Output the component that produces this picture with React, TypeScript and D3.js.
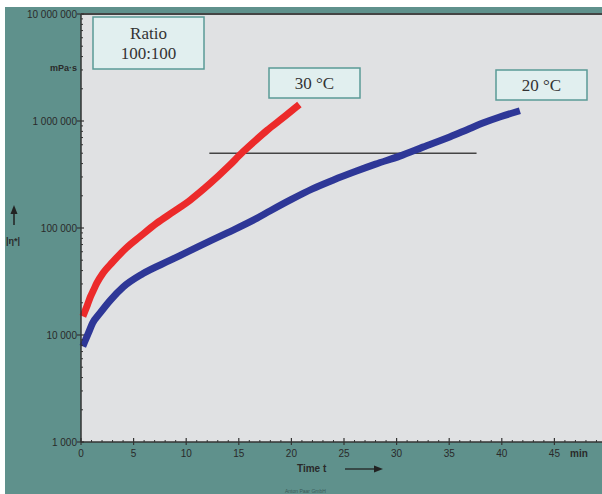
import * as d3 from "d3";

// viscosity |η*| (mPa·s) vs time (min), ratio 100:100
const red30T = [0.3, 0.6, 0.9, 1.2, 1.5, 2.1, 3.0, 4.3, 5.6, 7.2, 8.8, 10.4, 12.3, 14.0, 15.4, 16.6, 17.7, 19.2, 20.5];
const red30V = [16000, 19000, 22800, 26400, 30500, 38000, 48000, 65000, 83000, 111000, 142000, 183000, 262000, 375000, 515000, 660000, 820000, 1070000, 1360000];

const blue20T = [0.3, 0.7, 1.1, 1.8, 2.8, 4.0, 5.9, 8.5, 11.0, 13.9, 16.7, 18.0, 20.0, 22.0, 24.0, 26.0, 28.0, 30.3, 32.5, 35.1, 36.7, 38.2, 39.8, 41.4];
const blue20V = [8400, 10400, 12900, 16000, 21200, 28000, 37500, 50000, 66000, 90000, 123000, 145000, 185000, 232000, 281000, 335000, 395000, 470000, 570000, 713000, 830000, 957000, 1090000, 1220000];

const yTicks = [1000, 10000, 100000, 1000000, 10000000];
const xTicks = [0, 5, 10, 15, 20, 25, 30, 35, 40, 45];
const refLevel = 500000;
const refFrom = 12.2;
const refTo = 37.6;

const W = 602;
const H = 494;
const left = 81;
const top = 14;
const bottom = 442;
const teal = "#5f918c";

export default function App() {
  const x = d3.scaleLinear([0, 45], [left, left + 10.52 * 45]);
  const y = d3.scaleLog([1000, 10000000], [bottom, top]);

  const line = d3.line<[number, number]>()
    .x((d) => x(d[0]))
    .y((d) => y(d[1]))
    .curve(d3.curveMonotoneX);

  const red = red30T.map((t, i) => [t, red30V[i]] as [number, number]);
  const blue = blue20T.map((t, i) => [t, blue20V[i]] as [number, number]);

  const fmt = (v: number) => d3.format(",")(v).replace(/,/g, " ");

  // minor ticks
  const yMinor: number[] = [];
  for (let dec = 1000; dec < 10000000; dec *= 10) {
    for (let k = 2; k <= 9; k++) yMinor.push(dec * k);
  }
  const xMinor = d3.range(0, 50).filter((m) => m % 5 !== 0);

  const label = (bx: number, by: number, bw: number, bh: number, lines: string[]) => (
    <g>
      <rect x={bx} y={by} width={bw} height={bh} fill="#e1efef" stroke="#5a9a97" strokeWidth={1.5} />
      {lines.map((s, i) => (
        <text
          key={i}
          x={bx + bw / 2}
          y={by + bh / 2 + (i - (lines.length - 1) / 2) * 20}
          dy="0.35em"
          textAnchor="middle"
          fontFamily="'Liberation Serif', 'Times New Roman', serif"
          fontSize={17}
          fill="#333"
        >
          {s}
        </text>
      ))}
    </g>
  );

  return (
    <svg width={W} height={H} style={{ position: "absolute", left: 0, top: 0 }}>
      <rect x={0} y={0} width={W} height={H} fill="#fff" />
      <rect x={5} y={7} width={W - 5} height={H - 7} fill={teal} />
      <rect x={left} y={top} width={W - left} height={bottom - top} fill="#e0e1e3" />

      {/* reference line */}
      <line x1={x(refFrom)} x2={x(refTo)} y1={y(refLevel)} y2={y(refLevel)} stroke="#444" strokeWidth={1.5} />

      {/* series: dense square markers rendered as a thick band */}
      <path d={line(blue) ?? undefined} fill="none" stroke="#2e3797" strokeWidth={7} strokeLinecap="square" />
      <path d={line(red) ?? undefined} fill="none" stroke="#ec2a2a" strokeWidth={7} strokeLinecap="square" />

      {/* axes */}
      <line x1={left} x2={left} y1={top} y2={bottom} stroke="#333" strokeWidth={1.5} />
      <line x1={left} x2={W} y1={top} y2={top} stroke="#444" strokeWidth={2} />
      <line x1={left} x2={W} y1={bottom} y2={bottom} stroke="#333" strokeWidth={1.5} />

      <g fontFamily="'Liberation Sans', Arial, sans-serif" fontSize={10} fill="#2a2a2a">
        {yMinor.map((v) => (
          <line key={v} x1={left} x2={left + 2} y1={y(v)} y2={y(v)} stroke="#333" strokeWidth={1} />
        ))}
        {yTicks.map((v) => (
          <g key={v}>
            <line x1={left - 4} x2={left + 3} y1={y(v)} y2={y(v)} stroke="#333" strokeWidth={1.2} />
            <text x={left - 4} y={y(v)} dy="0.35em" textAnchor="end">{fmt(v)}</text>
          </g>
        ))}
        {xMinor.map((m) => (
          <line key={m} x1={x(m)} x2={x(m)} y1={bottom - 2} y2={bottom} stroke="#333" strokeWidth={1} />
        ))}
        {xTicks.map((m) => (
          <g key={m}>
            <line x1={x(m)} x2={x(m)} y1={bottom - 4} y2={bottom + 3} stroke="#333" strokeWidth={1.2} />
            <text x={x(m)} y={bottom + 15} textAnchor="middle">{m}</text>
          </g>
        ))}
        <text x={570} y={bottom + 15} fontWeight="bold">min</text>
        <text x={297} y={472} fontWeight="bold">Time t</text>
        <text x={77} y={68} dy="0.35em" textAnchor="end" fontWeight="bold" fontSize={9}>mPa·s</text>
        <text x={6} y={244} fontWeight="bold" fontSize={9}>|η*|</text>
        <text x={285} y={493} fontSize={5} fill="#3a5a58">Anton Paar GmbH</text>
      </g>

      {/* arrows */}
      <line x1={345} x2={376} y1={469} y2={469} stroke="#222" strokeWidth={1.3} />
      <path d="M374,465.5 L383,469 L374,472.5 Z" fill="#222" />
      <line x1={14} x2={14} y1={225} y2={212} stroke="#222" strokeWidth={1.5} />
      <path d="M10.5,214 L14,205 L17.5,214 Z" fill="#222" />

      {label(93, 17, 111, 52, ["Ratio", "100:100"])}
      {label(269, 68, 91, 30, ["30 °C"])}
      {label(496, 70, 91, 30, ["20 °C"])}
    </svg>
  );
}
